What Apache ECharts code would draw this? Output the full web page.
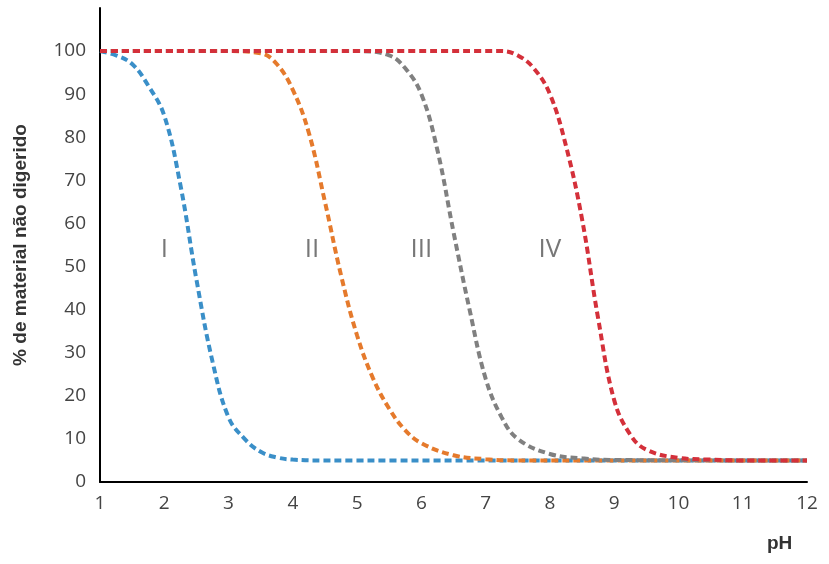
<!DOCTYPE html>
<html>
<head>
<meta charset="utf-8">
<script src="https://cdn.jsdelivr.net/npm/echarts@6/dist/echarts.min.js"></script>
<style>html,body{margin:0;background:#fff}#main{width:829px;height:564px}</style>
</head>
<body>
<div id="main"></div>
<script>
// pH, % values
const curveI = [[1,100],[1.25,99],[1.5,97],[1.75,92],[2,85],[2.25,69],[2.5,47],[2.75,28],[3,15],[3.25,10],[3.5,7],[3.75,5.7],[4,5.2],[4.5,5],[12,5]];
const curveII = [[1,100],[3,100],[3.5,99.5],[3.75,97],[4,91],[4.25,81],[4.5,65],[4.75,48],[5,34],[5.25,24],[5.5,17],[5.75,12],[6,9],[6.5,6.2],[7,5.3],[7.5,5],[12,5]];
const curveIII = [[1,100],[5,100],[5.5,99],[5.75,96],[6,90],[6.25,77],[6.5,58],[6.75,40],[7,24],[7.25,15],[7.5,10],[8,6.5],[8.5,5.5],[9,5.1],[12,5]];
const curveIV = [[1,100],[7.25,100],[7.5,99],[7.75,96],[8,90],[8.25,78],[8.5,61],[8.75,38],[9,19],[9.25,11],[9.5,7.5],[10,5.6],[10.5,5.2],[11,5],[12,5]];
const labels = [['I',2,54],['II',4.3,54],['III',6.0,54],['IV',8.0,54]];
const colors = ['#3a8fc8','#e57a2c','#808080','#d4303a'];

const chart = echarts.init(document.getElementById('main'));
const mk = (data, i) => ({
  type: 'line', data, smooth: 0.4, symbol: 'none',
  lineStyle: {color: colors[i], width: 4, type: [7, 4]},
  z: 2 + i
});
chart.setOption({
  animation: false,
  grid: {left: 100, right: 22, top: 8, bottom: 82},
  xAxis: {
    type: 'value', min: 1, max: 12, interval: 1,
    name: 'pH', nameLocation: 'end', nameGap: 0,
    nameTextStyle: {fontSize: 19, fontWeight: 'bold', color: '#333', padding: [52, 0, 0, -40], verticalAlign: 'top'},
    axisLine: {lineStyle: {color: '#000', width: 2}},
    axisTick: {show: false},
    axisLabel: {fontSize: 19, color: '#444', margin: 12, fontFamily: 'Open Sans'},
    splitLine: {show: false}
  },
  yAxis: {
    type: 'value', min: 0, max: 110, interval: 10,
    name: '% de material não digerido', nameLocation: 'middle', nameGap: 70, nameRotate: 90,
    nameTextStyle: {fontSize: 19, fontWeight: 'bold', color: '#333'},
    axisLine: {show: true, lineStyle: {color: '#000', width: 2}},
    axisTick: {show: false},
    axisLabel: {fontSize: 19, color: '#444', margin: 14, fontFamily: 'Open Sans', formatter: v => v > 100 ? '' : v},
    splitLine: {show: false}
  },
  series: [
    mk(curveI, 0), mk(curveII, 1), mk(curveIII, 2), mk(curveIV, 3),
    {
      type: 'scatter', symbolSize: 0, data: labels.map(l => ({value: [l[1], l[2]], name: l[0]})),
      label: {show: true, position: 'inside', formatter: p => p.name, fontSize: 26, color: '#555', fontFamily: 'Open Sans'},
      z: 10
    }
  ]
});
</script>
</body>
</html>
